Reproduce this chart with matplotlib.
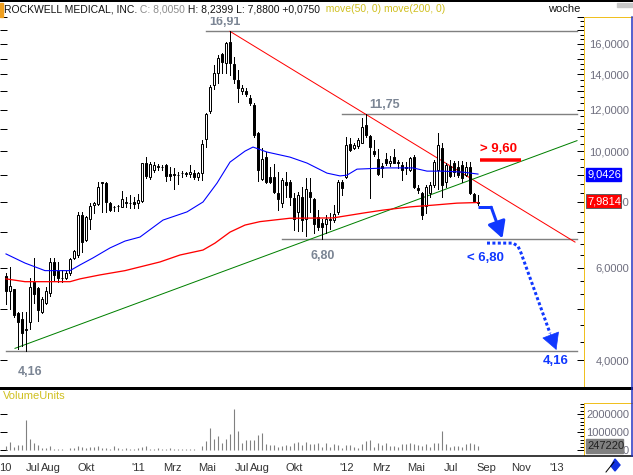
import numpy as np
import pandas as pd
import matplotlib
matplotlib.use('Agg')
import matplotlib.pyplot as plt
from matplotlib.patches import Rectangle, Polygon
from matplotlib.lines import Line2D
from matplotlib.ticker import FixedLocator, FuncFormatter, NullFormatter

plt.rcParams['font.family'] = ['Liberation Sans', 'DejaVu Sans']

# weekly candles, first week ending 14.05.2010
start = pd.Timestamp('2010-05-14')

opens = [5.77, 5.42, 5.45, 4.92, 4.78, 4.57, 4.73, 5.64, 5.49, 4.94,
         5.13, 5.36, 6.16, 5.90, 5.74, 5.73, 5.87, 6.25, 6.34, 7.55,
         6.77, 7.41, 7.91, 7.93, 8.72, 8.71, 7.97, 7.84, 7.85, 7.84,
         7.97, 7.98, 8.01, 7.98, 8.03, 9.48, 8.91, 9.20, 9.34, 9.34,
         9.39, 9.04, 9.04, 9.01, 9.10, 9.06, 9.03, 9.10, 8.91, 9.07,
         10.53, 11.92, 13.35, 14.06, 15.30, 14.74, 16.16, 14.65, 13.66, 13.03,
         13.03, 12.60, 12.24, 10.81, 8.86, 9.76, 8.94, 8.91, 8.33, 7.95,
         8.74, 8.74, 8.13, 7.64, 8.19, 7.41, 8.37, 8.09, 7.48, 7.28,
         7.26, 7.39, 7.39, 7.64, 8.74, 8.94, 10.30, 10.12, 10.23, 10.38,
         11.21, 10.68, 10.02, 9.65, 9.37, 9.65, 9.48, 9.76, 9.52, 9.41,
         9.31, 9.20, 9.73, 8.50, 8.31, 7.86, 8.31, 8.62, 9.20, 10.12,
         8.72, 9.37, 9.48, 9.34, 9.41, 9.00, 9.34, 8.28, 7.95]
highs = [5.85, 6.02, 5.45, 4.94, 4.94, 4.94, 5.73, 6.25, 5.52, 5.28,
         5.52, 6.25, 6.25, 6.16, 5.94, 5.90, 6.25, 6.48, 7.66, 7.66,
         7.53, 7.95, 8.00, 8.75, 8.75, 8.75, 8.00, 7.86, 7.89, 8.39,
         8.19, 8.25, 8.19, 8.29, 9.51, 9.76, 9.55, 9.55, 9.45, 9.41,
         9.45, 9.34, 9.27, 9.14, 9.18, 9.14, 9.39, 9.20, 9.14, 10.50,
         11.80, 13.37, 14.59, 15.24, 15.35, 16.16, 16.91, 15.13, 14.27, 13.37,
         13.17, 12.78, 12.33, 10.89, 10.12, 9.98, 9.34, 9.45, 9.14, 8.87,
         9.14, 8.81, 8.31, 8.37, 8.56, 8.87, 8.87, 8.13, 7.72, 7.44,
         7.56, 7.61, 7.90, 8.81, 8.81, 10.65, 10.57, 10.38, 10.57, 11.55,
         11.75, 10.73, 10.50, 10.08, 9.48, 9.90, 9.78, 10.08, 9.62, 9.55,
         9.55, 9.76, 9.83, 8.62, 8.37, 8.62, 8.75, 9.62, 10.81, 10.35,
         9.48, 9.62, 9.58, 9.58, 9.58, 9.55, 9.55, 8.31, 8.2399]
lows = [5.11, 5.01, 4.84, 4.20, 4.26, 4.16, 4.59, 5.13, 4.75, 4.91,
        5.11, 5.29, 5.69, 5.64, 5.64, 5.71, 5.81, 6.22, 6.29, 6.43,
        6.75, 7.12, 7.61, 7.89, 7.66, 7.66, 7.69, 7.69, 7.69, 7.81,
        7.84, 7.78, 7.78, 7.78, 8.01, 8.87, 8.86, 9.14, 9.20, 9.20,
        8.79, 8.81, 8.46, 8.65, 8.94, 8.96, 8.94, 8.84, 8.81, 8.81,
        10.17, 11.83, 13.11, 13.46, 14.06, 14.06, 13.96, 13.46, 12.42, 12.84,
        12.73, 12.24, 10.62, 8.79, 8.81, 8.71, 8.71, 8.33, 7.72, 7.84,
        8.19, 7.90, 7.07, 7.05, 7.05, 6.90, 7.67, 6.97, 7.07, 6.80,
        6.97, 7.10, 7.34, 7.59, 8.25, 8.87, 10.02, 10.08, 10.12, 10.35,
        10.65, 8.13, 9.78, 9.00, 8.94, 9.41, 9.37, 9.48, 9.27, 8.81,
        9.04, 9.18, 8.50, 8.34, 7.41, 7.63, 8.19, 8.53, 8.47, 8.19,
        8.53, 8.91, 8.96, 8.94, 8.75, 8.96, 8.29, 8.00, 7.88]
closes = [5.41, 5.54, 4.87, 4.73, 4.50, 4.58, 5.51, 5.34, 4.98, 5.22,
          5.41, 6.14, 5.81, 5.73, 5.72, 5.85, 6.22, 6.45, 7.57, 6.72,
          7.48, 7.86, 7.97, 8.53, 8.71, 8.01, 7.72, 7.83, 7.86, 8.10,
          7.99, 7.97, 7.93, 8.07, 9.48, 8.96, 9.44, 9.42, 9.35, 9.33,
          8.96, 8.98, 9.02, 8.99, 9.08, 9.07, 9.14, 8.91, 9.07, 10.30,
          11.75, 13.27, 14.10, 15.02, 14.80, 16.04, 14.74, 13.70, 13.17, 13.19,
          12.84, 12.36, 10.73, 9.20, 9.65, 8.74, 8.74, 8.37, 8.09, 8.81,
          8.62, 8.19, 7.44, 8.25, 7.39, 8.46, 8.17, 7.26, 7.18, 7.18,
          7.41, 7.42, 7.58, 8.74, 8.50, 10.27, 10.05, 10.27, 10.50, 11.13,
          10.73, 10.20, 9.87, 9.04, 9.30, 9.48, 9.58, 9.51, 9.49, 9.20,
          9.28, 9.69, 8.53, 8.44, 7.56, 8.53, 8.62, 9.55, 10.27, 8.62,
          9.41, 8.96, 9.14, 9.00, 8.87, 9.34, 8.31, 8.05, 8.005]
volumes = [240000, 460000, 200000, 310000, 310000, 1690000, 630000, 430000, 310000, 150000,
           150000, 240000, 90000, 90000, 90000, 40000, 150000, 150000, 260000, 190000,
           150000, 200000, 200000, 260000, 150000, 150000, 90000, 260000, 150000, 90000,
           150000, 90000, 90000, 150000, 200000, 260000, 90000, 90000, 150000, 90000,
           90000, 150000, 90000, 90000, 90000, 90000, 90000, 90000, 40000, 260000,
           540000, 1240000, 650000, 810000, 430000, 650000, 930000, 2300000, 1090000, 430000,
           590000, 590000, 590000, 870000, 980000, 370000, 310000, 310000, 200000, 260000,
           310000, 260000, 430000, 480000, 310000, 480000, 370000, 370000, 430000, 200000,
           430000, 200000, 370000, 310000, 150000, 310000, 310000, 200000, 150000, 370000,
           540000, 590000, 200000, 430000, 310000, 430000, 260000, 260000, 200000, 370000,
           370000, 430000, 370000, 310000, 260000, 370000, 200000, 430000, 430000, 1090000,
           370000, 200000, 260000, 260000, 200000, 370000, 430000, 370000, 247220]

# moving averages (week index, price)
ma50_weeks = [0, 4.75, 9.75, 16, 18.5, 21.75, 26, 29.75, 33.5, 39.25, 45.25, 49.25, 52.75,
              56, 59.75, 61.75, 65.25, 71, 75.25, 80.25, 83.5, 85.25, 87.75, 95.25,
              101.75, 105.25, 109.25, 114.25, 118]
ma50_vals = [6.37, 6.12, 5.92, 5.92, 6.07, 6.26, 6.54, 6.74, 6.86, 7.39, 7.66, 8.00, 8.69,
             9.53, 10.00, 10.18, 9.96, 9.74, 9.49, 9.08, 8.97, 9.00, 9.24, 9.29,
             9.29, 9.16, 9.16, 9.12, 9.0426]
ma200_weeks = [0, 4.75, 16, 18.5, 23.5, 29.75, 38.5, 43.5, 49.25, 52.25, 56, 59.75, 63.5,
               71, 81.75, 89.75, 94.25, 101, 106.75, 112.75, 118]
ma200_vals = [5.71, 5.64, 5.64, 5.71, 5.81, 5.92, 6.15, 6.34, 6.48, 6.68, 7.01, 7.23, 7.34,
              7.45, 7.46, 7.63, 7.72, 7.83, 7.89, 7.96, 7.9814]

# trend lines and marked levels
down_trend = ([56, 142.25], [16.91, 6.71])
up_trend = ([2.25, 142.75], [4.21, 10.47])
levels = [16.91, 11.75, 6.80, 4.16]
level_from = [50, 84, 69, 0]
level_labels = ['16,91', '11,75', '6,80', '4,16']
level_label_pos = [(54.75, 17.42), (94.75, 12.08), (79.25, 6.23), (6, 3.745)]

tick_dates = ['2010-05-12', '2010-07-01', '2010-08-01', '2010-10-01', '2011-01-01',
              '2011-03-01', '2011-05-01', '2011-07-01', '2011-08-01', '2011-10-01',
              '2012-01-01', '2012-03-01', '2012-05-01', '2012-07-01', '2012-09-01',
              '2012-11-01', '2013-01-01']
tick_labels = ['10', 'Jul', 'Aug', 'Okt', "'11", 'Mrz', 'Mai', 'Jul', 'Aug', 'Okt',
               "'12", 'Mrz', 'Mai', 'Jul', 'Sep', 'Nov', "'13"]

W, H = 633, 475
fig = plt.figure(figsize=(W / 100, H / 100), dpi=100)
fig.patch.set_facecolor('white')

def fx(px):
    return px / W

def fy(py):
    return 1 - py / H

PX = 0.72  # one pixel in points
LABEL_COL = '#6e6e7e'
BLUE = '#1038ff'

ax = fig.add_axes([0, fy(386), fx(584), fy(17) - fy(386)])
axv = fig.add_axes([0, fy(455), fx(584), fy(389) - fy(455)])

weeks = np.arange(len(closes))

# candles
for i in weeks:
    o, h, l, c = opens[i], highs[i], lows[i], closes[i]
    ax.plot([i, i], [l, h], color='black', lw=PX, zorder=3)
    lo, hi = min(o, c), max(o, c)
    face = 'white' if c >= o else 'black'
    ax.add_patch(Rectangle((i - 0.25, lo), 0.5, hi - lo, facecolor=face,
                           edgecolor='black', lw=PX, zorder=4))

ax.plot(ma50_weeks, ma50_vals, color='#0000ff', lw=1.1 * PX, zorder=5)
ax.plot(ma200_weeks, ma200_vals, color='#ff0000', lw=1.3 * PX, zorder=5)
ax.plot(*down_trend, color='#ff0000', lw=PX, zorder=2)
ax.plot(*up_trend, color='#008000', lw=PX, zorder=2)

for lev, x0, lab, (lx, ly) in zip(levels, level_from, level_labels, level_label_pos):
    ax.plot([x0, 142.75], [lev, lev], color='#808080', lw=1.4 * PX, zorder=1)
    ax.text(lx, ly, lab, color='#7b8594', fontsize=9, fontweight='bold',
            ha='center', va='baseline', clip_on=True)

# scenario marks
ax.plot([118.5, 128.75], [9.60, 9.60], color='#ff0000', lw=3.5 * PX, solid_capstyle='butt', zorder=6)
ax.text(123.2, 10.09, '> 9,60', color='#ff0000', fontsize=9.5, fontweight='bold',
        ha='center', va='center')

ax.plot([118, 121.5], [7.82, 7.82], color=BLUE, lw=3 * PX, solid_capstyle='butt', zorder=6)
ax.annotate('', xy=(124.1, 6.82), xytext=(121.3, 7.82),
            arrowprops=dict(arrowstyle='-|>,head_length=1.0,head_width=0.55', color=BLUE,
                            lw=3 * PX, mutation_scale=10, shrinkA=0, shrinkB=0), zorder=6)

ax.plot([120.25, 126.75, 128, 128.75, 136], [6.68, 6.68, 6.59, 6.40, 4.50], color=BLUE,
        lw=3 * PX, linestyle=(0, (1, 0.8)), dash_capstyle='butt', zorder=6)
ax.annotate('', xy=(137.6, 4.18), xytext=(136, 4.50),
            arrowprops=dict(arrowstyle='-|>,head_length=1.1,head_width=0.6', color=BLUE,
                            lw=0.5, mutation_scale=10, shrinkA=0, shrinkB=0), zorder=6)
ax.text(119.75, 6.26, '< 6,80', color=BLUE, fontsize=9.5, fontweight='bold', ha='center', va='center')
ax.text(137.5, 3.98, '4,16', color=BLUE, fontsize=9.5, fontweight='bold', ha='center', va='center')

# price axis
ax.set_yscale('log')
ax.set_xlim(-1.5, 144.5)
ax.set_ylim(3.569, 18.01)
major = list(range(4, 19))
minor = [v / 3 for v in range(12, 55) if v % 3 != 0]
ax.yaxis.set_major_locator(FixedLocator(major))
ax.yaxis.set_minor_locator(FixedLocator(minor))
ax.yaxis.set_major_formatter(FuncFormatter(
    lambda v, p: ('%.4f' % v).replace('.', ',') if int(round(v)) % 2 == 0 and v < 17 else ''))
ax.yaxis.set_minor_formatter(NullFormatter())
ax.yaxis.tick_right()
ax.tick_params(axis='y', which='major', direction='in', length=5, width=PX, right=True,
               left=True, labelright=True, labelleft=False, labelsize=8,
               labelcolor=LABEL_COL, pad=45 * PX)
ax.tick_params(axis='y', which='minor', direction='in', length=3, width=PX, right=True, left=False)
for t in ax.get_yticklabels():
    t.set_horizontalalignment('right')
ax.set_xticks([])
for s in ax.spines.values():
    s.set_visible(False)

# volume
axv.vlines(weeks, 0, volumes, color='#808080', lw=1.1 * PX)
axv.set_xlim(-1.5, 144.5)
axv.set_ylim(-261000, 3406000)
axv.yaxis.tick_right()
axv.yaxis.set_major_locator(FixedLocator([0, 1000000, 2000000]))
axv.yaxis.set_minor_locator(FixedLocator(np.arange(200000, 2700000, 200000)))
axv.yaxis.set_major_formatter(FuncFormatter(lambda v, p: '%d' % v))
axv.tick_params(axis='y', which='major', direction='in', length=5, width=PX, right=True,
                left=True, labelsize=8, labelcolor=LABEL_COL, pad=45 * PX)
axv.tick_params(axis='y', which='minor', direction='in', length=3, width=PX, right=True, left=False)
for t in axv.get_yticklabels():
    t.set_horizontalalignment('right')
tick_pos = [(pd.Timestamp(d) - start).days / 7 for d in tick_dates]
axv.set_xticks(tick_pos)
axv.set_xticklabels(tick_labels)
axv.tick_params(axis='x', length=0, labelsize=8, labelcolor='#333333', pad=6)
for s in axv.spines.values():
    s.set_visible(False)

# frame lines
def fline(xs, ys, color, lw):
    fig.add_artist(Line2D([fx(x) for x in xs], [fy(y) for y in ys], color=color, lw=lw))

fline([0, 633], [1, 1], 'black', 2 * PX)
fline([584, 633], [17, 17], '#f0c020', PX)
fline([584, 584], [17, 386], '#f0c020', PX)
fline([0, 633], [387.5, 387.5], 'black', 3 * PX)
fline([584, 633], [403, 403], '#f0c020', PX)
fline([584, 584], [403, 455], '#f0c020', PX)
fline([0, 633], [456, 456], 'black', 1.5 * PX)
fline([631.5, 631.5], [17, 456], '#2030c0', 1.5 * PX)
fig.add_artist(Rectangle((fx(0), fy(17)), fx(3), 14 / H, color='#f0a020', transform=fig.transFigure))
fig.add_artist(Rectangle((fx(617), fy(7)), fx(15), 4 / H, color='#c8c8c8', transform=fig.transFigure))

# value boxes on the price axis
fig.add_artist(Rectangle((fx(585.5), fy(181)), fx(35), 13.5 / H, color='#0000ff', transform=fig.transFigure))
fig.text(fx(587), fy(174.5), '9,0426', color='white', fontsize=8, va='center', ha='left')
fig.add_artist(Rectangle((fx(585.5), fy(208)), fx(35), 14 / H, facecolor='#ff0000',
                         edgecolor='#606060', lw=PX, transform=fig.transFigure))
fig.text(fx(587), fy(201.5), '7,9814', color='white', fontsize=8, va='center', ha='left')
fig.add_artist(Rectangle((fx(585.5), fy(453)), fx(37), 14 / H, color='#808080', transform=fig.transFigure))
fig.text(fx(587), fy(446), '247220', color='#202020', fontsize=8, va='center', ha='left')

# icon in the corner
fline([606, 614], [472, 462], 'black', PX)
fig.add_artist(Polygon([(fx(611), fy(466)), (fx(615), fy(459)), (fx(620), fy(465)), (fx(615), fy(471))],
                       closed=True, color='#1030e0', transform=fig.transFigure))

# header
renderer = fig.canvas.get_renderer()
parts = [('ROCKWELL MEDICAL, INC.', '#111111'), (' C: 8,0050', '#8c8c8c'),
         (' H: 8,2399 L: 7,8800 +0,0750', '#111111'), ('  move(50, 0) move(200, 0)', '#d0c020')]
x = 4
for s, col in parts:
    t = fig.text(fx(x), fy(9.5), s, color=col, fontsize=7.5, va='center', ha='left')
    x += t.get_window_extent(renderer).width
fig.text(fx(548), fy(9.5), 'woche', color='#111111', fontsize=8, va='center', ha='left')
fig.text(fx(3), fy(396), 'VolumeUnits', color='#d0c020', fontsize=8, va='center', ha='left')

fig.savefig('out.png', dpi=100, facecolor='white')
